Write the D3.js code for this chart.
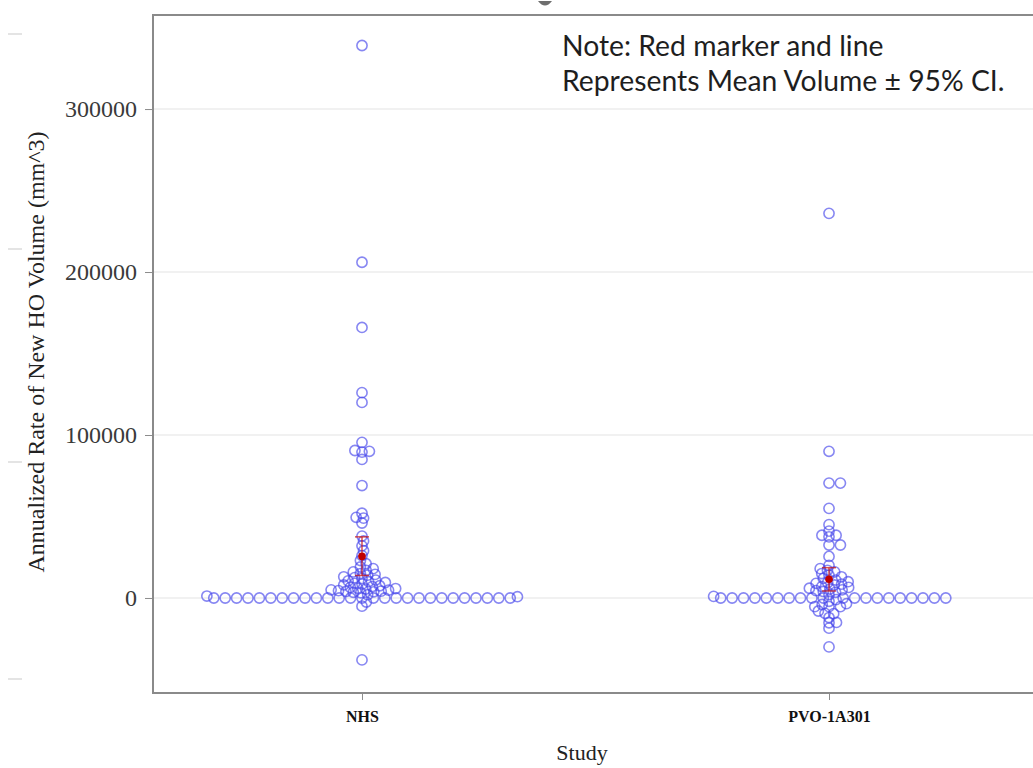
<!DOCTYPE html>
<html>
<head>
<meta charset="utf-8">
<script src="https://cdnjs.cloudflare.com/ajax/libs/d3/7.8.5/d3.min.js"></script>
<style>
  body { margin: 0; background: #fff; }
  svg { display: block; }
</style>
</head>
<body>
<script>
// studies on the x axis
var studies = ['NHS', 'PVO-1A301'];

// annualized rate of new HO volume (mm^3), one value per subject
var nhsValues = [339000, 206000, 166000, 126000, 120000, 95500, 90500, 90000, 89500, 85000,
  69000, 52000, 49500, 49000, 46000, 38000, 35000, 32000, 29000, 26000, 23000, 21000, 19000,
  18000, 17000, 16000, 15000, 14500, 14000, 13000, 12500, 12000, 11000, 10500, 10000, 9500, 9000,
  8500, 8000, 7500, 7000, 6500, 6000, 5800, 5500, 5000, 4800, 4500, 4200, 4000, 3800, 3500, 3200,
  2000, 1200, 800,
  0, 0, 0, 0, 0, 0, 0, 0, 0, 0, 0, 0, 0, 0, 0, 0, 0, 0, 0, 0, 0, 0, 0, 0, 0, 0, 0,
  -2500, -5000, -38000];

var pvoValues = [236000, 90000, 70500, 70500, 55000, 45000, 41000, 38500, 38500, 37500, 32500,
  32500, 25500, 20000, 18000, 17000, 16000, 15000, 14000, 13000, 12000, 11000, 10000, 9500, 9000,
  8500, 8000, 7000, 6500, 6000, 5500, 5000, 4500, 4000, 3500, 2000, 1000,
  0, 0, 0, 0, 0, 0, 0, 0, 0, 0, 0, 0, 0, 0, 0, 0, 0, 0, 0, 0,
  -1000, -2000, -3500, -4000, -5300, -5300, -5300, -8000, -9400, -9600, -12000, -15000, -15200,
  -18500, -30000];

// mean volume and 95% CI per study
var meanVolume = [25500, 11500];
var ciLower = [13800, 4300];
var ciUpper = [37500, 18600];

var yTicks = [0, 100000, 200000, 300000];
var noteLines = ['Note: Red marker and line', 'Represents Mean Volume \u00b1 95% CI.'];

var W = 1033, H = 768;
var svg = d3.select('body').append('svg').attr('width', W).attr('height', H);

var plot = { left: 153, top: 15, right: 1038, bottom: 693 };

var x = d3.scalePoint().domain(studies).range([plot.left, plot.right]).padding(0.4475);
var y = d3.scaleLinear().domain([-58300, 357700]).range([plot.bottom, plot.top]);

// faint scan leftovers on the far left and top
svg.selectAll('.ghost').data([34, 249, 462, 679]).enter().append('line')
  .attr('x1', 8).attr('x2', 22).attr('y1', function (d) { return d; }).attr('y2', function (d) { return d; })
  .attr('stroke', '#e4e4e4').attr('stroke-width', 2);
svg.append('path').attr('d', 'M538,1 L552,1 Q545,10 538,1 Z').attr('fill', '#6e6e6e');

// gridlines
svg.selectAll('.grid').data(yTicks).enter().append('line')
  .attr('x1', plot.left).attr('x2', plot.right)
  .attr('y1', function (d) { return y(d); }).attr('y2', function (d) { return y(d); })
  .attr('stroke', '#f1f1f1').attr('stroke-width', 2);

// y axis
var yAxis = svg.append('g').attr('transform', 'translate(' + plot.left + ',0)')
  .call(d3.axisLeft(y).tickValues(yTicks).tickSize(8).tickPadding(8).tickFormat(d3.format('d')));
yAxis.select('.domain').remove();
yAxis.selectAll('line').attr('stroke', '#8c8c8c');
yAxis.selectAll('text').attr('font-family', 'Liberation Serif').attr('font-size', 24).attr('fill', '#3a3a3a');

// x axis
var xAxis = svg.append('g').attr('transform', 'translate(0,' + plot.bottom + ')')
  .call(d3.axisBottom(x).tickSize(7).tickPadding(11));
xAxis.select('.domain').remove();
xAxis.selectAll('line').attr('stroke', '#8c8c8c');
xAxis.selectAll('text').attr('font-family', 'Liberation Serif').attr('font-weight', 'bold')
  .attr('font-size', 16).attr('fill', '#111');

// frame
svg.append('rect').attr('x', plot.left).attr('y', plot.top)
  .attr('width', plot.right - plot.left).attr('height', plot.bottom - plot.top)
  .attr('fill', 'none').attr('stroke', '#8a8a8a').attr('stroke-width', 2);

// titles
svg.append('text').attr('x', 582).attr('y', 760).attr('text-anchor', 'middle')
  .attr('font-family', 'Liberation Serif').attr('font-size', 22).attr('fill', '#222').text('Study');
svg.append('text').attr('transform', 'translate(44,352) rotate(-90)').attr('text-anchor', 'middle')
  .attr('font-family', 'Liberation Serif').attr('font-size', 24).attr('fill', '#222')
  .text('Annualized Rate of New HO Volume (mm^3)');

// beeswarm: identical values sit a full marker apart, near values may overlap a little
function swarm(values, dx, ry, same) {
  var placed = [];
  function clear(c, v, py) {
    return placed.every(function (p) {
      if (p.value === v) return Math.abs(p.off - c) >= same - 1e-6;
      var a = (p.off - c) / dx, b = (p.py - py) / ry;
      return a * a + b * b >= 0.999;
    });
  }
  values.slice().sort(d3.ascending).forEach(function (v) {
    var py = y(v);
    var cands = [0];
    placed.forEach(function (p) {
      var dy = Math.abs(p.py - py);
      if (p.value === v) {
        cands.push(p.off + same, p.off - same);
      } else if (dy < ry) {
        var w = dx * Math.sqrt(1 - (dy / ry) * (dy / ry));
        cands.push(p.off + w, p.off - w);
      }
    });
    cands.sort(function (a, b) { return Math.abs(a) - Math.abs(b); });
    var off = cands.find(function (c) { return clear(c, v, py); });
    placed.push({ value: v, py: py, off: off });
  });
  return placed;
}

var groups = [nhsValues, pvoValues];
groups.forEach(function (vals, i) {
  var cx = x(studies[i]);
  svg.append('g').selectAll('circle').data(swarm(vals, 7.5, 5, 11.4)).enter().append('circle')
    .attr('cx', function (d) { return cx + d.off; })
    .attr('cy', function (d) { return d.py; })
    .attr('r', 5.1)
    .attr('fill', 'none')
    .attr('stroke', '#4444ea')
    .attr('stroke-opacity', 0.64)
    .attr('stroke-width', 1.6);
});

// mean +/- 95% CI
studies.forEach(function (s, i) {
  var g = svg.append('g').attr('stroke', '#c81818').attr('stroke-opacity', 0.75).attr('stroke-width', 1.5);
  var cx = x(s);
  g.append('line').attr('x1', cx).attr('x2', cx).attr('y1', y(ciLower[i])).attr('y2', y(ciUpper[i]));
  [ciLower[i], ciUpper[i]].forEach(function (v) {
    g.append('line').attr('x1', cx - 7).attr('x2', cx + 7).attr('y1', y(v)).attr('y2', y(v));
  });
  svg.append('circle').attr('cx', cx).attr('cy', y(meanVolume[i])).attr('r', 3.8).attr('fill', '#c00000');
});

// note
svg.selectAll('.note').data(noteLines).enter().append('text')
  .attr('x', 562).attr('y', function (d, i) { return 56 + i * 35; })
  .attr('font-family', 'Lato').attr('font-size', 28.3).attr('fill', '#1e1e1e')
  .text(function (d) { return d; });
</script>
</body>
</html>
